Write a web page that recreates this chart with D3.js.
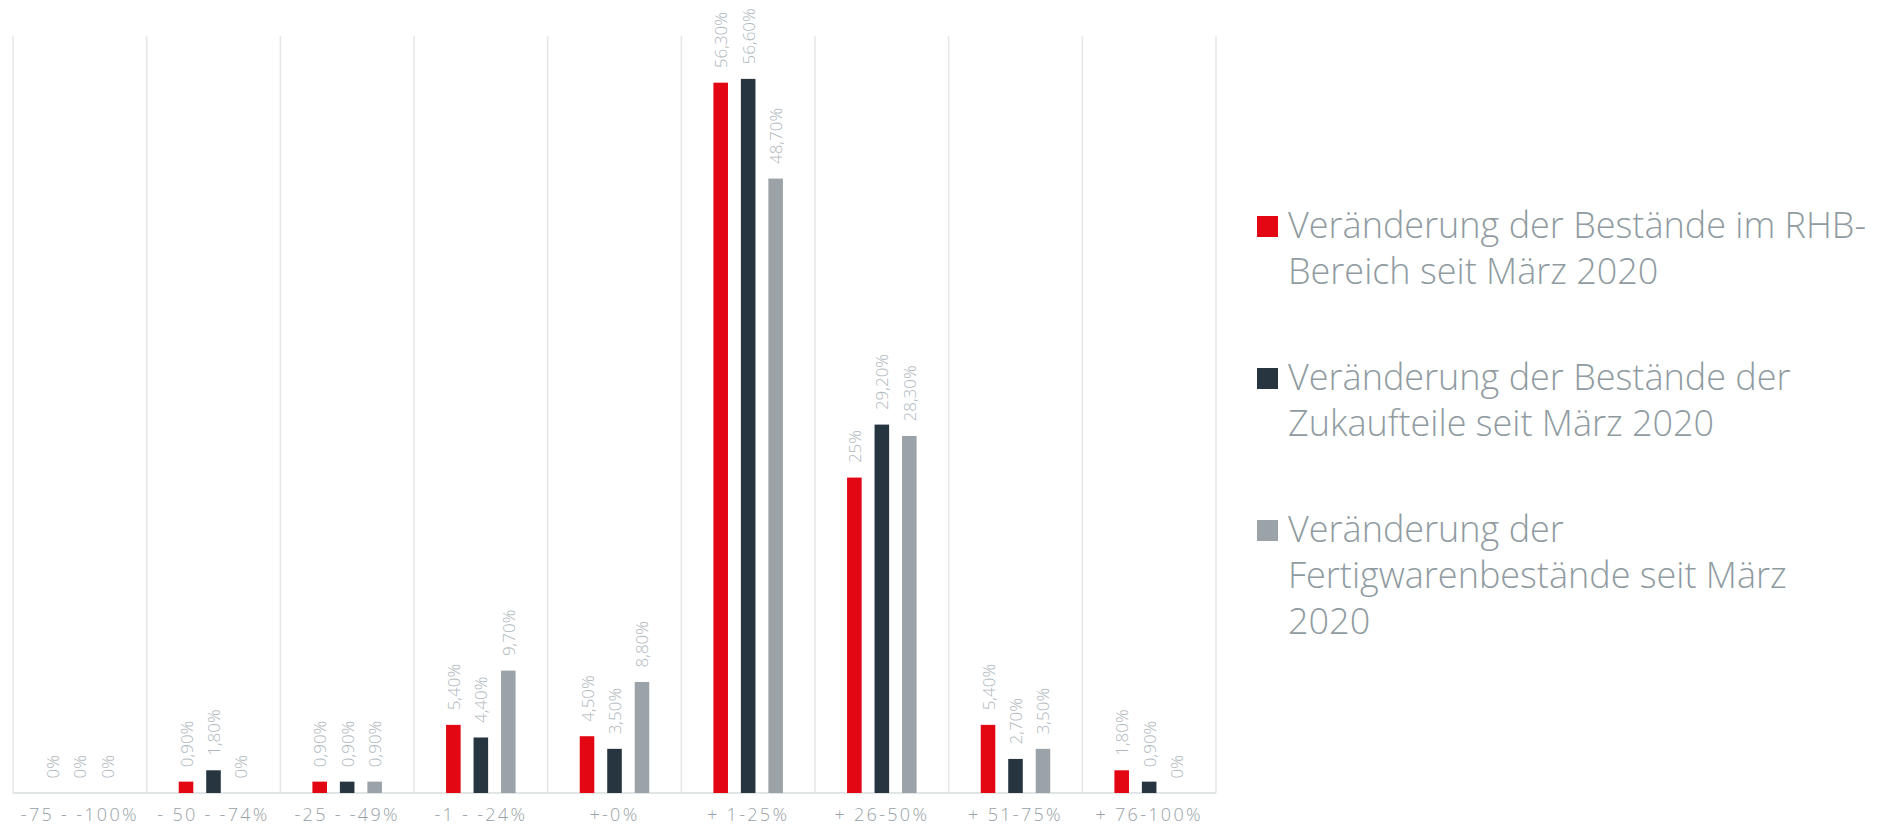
<!DOCTYPE html>
<html lang="de">
<head>
<meta charset="utf-8">
<title>Veränderung der Bestände seit März 2020</title>
<script src="https://cdn.jsdelivr.net/npm/d3@7"></script>
<style>
  html, body { margin: 0; padding: 0; background: #ffffff; }
  svg { display: block; font-family: "Open Sans", "Noto Sans", sans-serif; }
</style>
</head>
<body>
<svg id="chart" width="1881" height="825"></svg>
<script>
// Kategorien (Veränderung in %)
const categories = ["-75 - -100%", "- 50 - -74%", "-25 - -49%", "-1 - -24%", "+-0%", "+ 1-25%", "+ 26-50%", "+ 51-75%", "+ 76-100%"];

// Anteile der Antworten in Prozent je Reihe
const rhbValues = [0, 0.9, 0.9, 5.4, 4.5, 56.3, 25, 5.4, 1.8];
const zukaufValues = [0, 1.8, 0.9, 4.4, 3.5, 56.6, 29.2, 2.7, 0.9];
const fertigValues = [0, 0, 0.9, 9.7, 8.8, 48.7, 28.3, 3.5, 0];

// Legendentexte (Zeilenumbrüche wie in der Legende)
const legendLines = [
  ["Veränderung der Bestände im RHB-", "Bereich seit März 2020"],
  ["Veränderung der Bestände der", "Zukaufteile seit März 2020"],
  ["Veränderung der", "Fertigwarenbestände seit März", "2020"]
];

const seriesColors = ["#e30613", "#263540", "#9ba3a8"];
const seriesValues = [rhbValues, zukaufValues, fertigValues];

const svg = d3.select("#chart");

const plot = { left: 13, right: 1216, top: 36, bottom: 793 };

const x0 = d3.scaleBand()
  .domain(categories)
  .range([plot.left, plot.right])
  .paddingInner(0)
  .paddingOuter(0);

const x1 = d3.scaleBand()
  .domain(d3.range(seriesValues.length))
  .range([0, x0.bandwidth()])
  .paddingInner(0.47)
  .paddingOuter(1.167);

const y = d3.scaleLinear()
  .domain([0, 60])
  .range([plot.bottom, plot.top]);

// vertikale Trennlinien zwischen den Kategorien
const gridX = categories.map(c => x0(c)).concat([plot.right]);
svg.append("g")
  .selectAll("line")
  .data(gridX)
  .join("line")
  .attr("x1", d => d).attr("x2", d => d)
  .attr("y1", plot.top).attr("y2", plot.bottom)
  .attr("stroke", "#e4e7e8")
  .attr("stroke-width", 1.5);

// Grundlinie
svg.append("line")
  .attr("x1", plot.left).attr("x2", plot.right)
  .attr("y1", y(0)).attr("y2", y(0))
  .attr("stroke", "#e2e5e6")
  .attr("stroke-width", 2);

const fmt = v => (Number.isInteger(v) ? String(v) : v.toFixed(2).replace(".", ",")) + "%";

const flat = [];
categories.forEach((c, ci) => {
  seriesValues.forEach((vals, si) => {
    flat.push({ cat: c, s: si, v: vals[ci] });
  });
});

// Balken
svg.append("g")
  .selectAll("rect")
  .data(flat)
  .join("rect")
  .attr("x", d => x0(d.cat) + x1(d.s))
  .attr("y", d => y(d.v))
  .attr("width", x1.bandwidth())
  .attr("height", d => y(0) - y(d.v))
  .attr("fill", d => seriesColors[d.s]);

// Wertebeschriftungen (senkrecht)
svg.append("g")
  .selectAll("text")
  .data(flat)
  .join("text")
  .attr("transform", d => `translate(${x0(d.cat) + x1(d.s) + x1.bandwidth() / 2},${y(d.v) - 14.5}) rotate(-90)`)
  .attr("text-anchor", "start")
  .attr("dominant-baseline", "central")
  .attr("font-size", 17)
  .attr("font-weight", 300)
  .attr("fill", "#b0b8bd")
  .text(d => fmt(d.v));

// Kategorienbeschriftung
svg.append("g")
  .selectAll("text")
  .data(categories)
  .join("text")
  .attr("x", d => x0(d) + x0.bandwidth() / 2)
  .attr("y", 821)
  .attr("text-anchor", "middle")
  .attr("font-size", 18)
  .attr("font-weight", 300)
  .attr("letter-spacing", 2.3)
  .attr("fill", "#98a1a7")
  .text(d => d);

// Legende
const legend = svg.append("g").attr("transform", "translate(1257,0)");
const lineH = 46;
let baseY = 238;
legendLines.forEach((lines, i) => {
  const g = legend.append("g");
  g.append("rect")
    .attr("x", 0)
    .attr("y", baseY - 22)
    .attr("width", 21)
    .attr("height", 21)
    .attr("fill", seriesColors[i]);
  const t = g.append("text")
    .attr("font-size", 36)
    .attr("font-weight", 300)
    .attr("fill", "#8f9ba1");
  lines.forEach((ln, k) => {
    t.append("tspan")
      .attr("x", 31)
      .attr("y", baseY + k * lineH)
      .text(ln);
  });
  baseY += lines.length * lineH + 60;
});
</script>
</body>
</html>
